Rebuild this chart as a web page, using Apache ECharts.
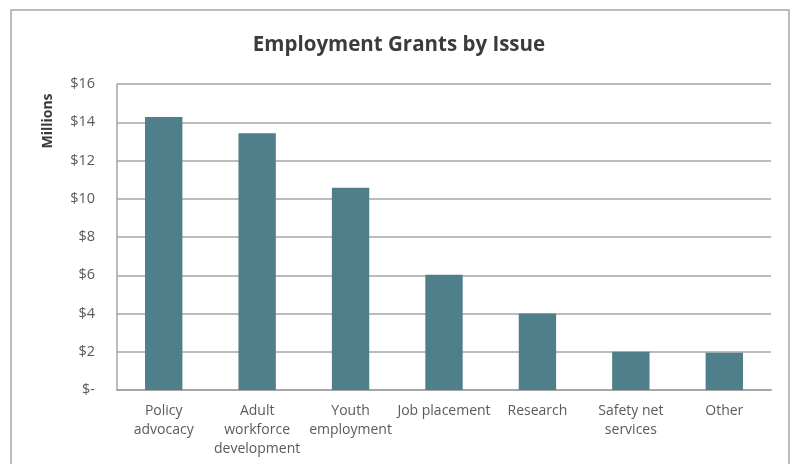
<!DOCTYPE html>
<html>
<head>
<meta charset="utf-8">
<script src="https://cdn.jsdelivr.net/npm/echarts@6/dist/echarts.min.js"></script>
<style>html,body{margin:0;padding:0;background:#fff;}#c{width:798px;height:464px;}</style>
</head>
<body>
<div id="c"></div>
<script>
const titleText = "Employment Grants by Issue";
const axisName = "Millions";
const categories = ["Policy\nadvocacy", "Adult\nworkforce\ndevelopment", "Youth\nemployment", "Job placement", "Research", "Safety net\nservices", "Other"];
const values = [14.28, 13.43, 10.58, 6.03, 4.0, 2.0, 1.95];
const yMin = 0, yMax = 16, yStep = 2;

const chart = echarts.init(document.getElementById('c'), null, {renderer: 'canvas'});
chart.setOption({
  animation: false,
  backgroundColor: '#ffffff',
  title: {
    text: titleText,
    left: 'center',
    top: 30,
    textStyle: {fontFamily: 'Open Sans', fontWeight: 'bold', fontSize: 20.5, color: '#3b3b3b'}
  },
  graphic: [
    {type: 'rect', shape: {x: 11, y: 10, width: 778, height: 500}, style: {fill: 'none', stroke: '#a6a6a6', lineWidth: 1.5}, silent: true},
    {type: 'text', x: 48, y: 121, rotation: Math.PI / 2, style: {text: axisName, fontFamily: 'Open Sans', fontWeight: 'bold', fontSize: 14, fill: '#3b3b3b', align: 'center', verticalAlign: 'middle'}}
  ],
  grid: {left: 117, right: 27, top: 84, bottom: 74, containLabel: false},
  xAxis: {
    type: 'category',
    data: categories,
    axisLine: {show: true, lineStyle: {color: '#a6a6a6', width: 2}},
    axisTick: {show: false},
    axisLabel: {interval: 0, fontFamily: 'Open Sans', fontSize: 14, color: '#5a5a5a', lineHeight: 19, margin: 12}
  },
  yAxis: {
    type: 'value',
    min: yMin, max: yMax, interval: yStep,
    axisLine: {show: true, lineStyle: {color: '#a6a6a6', width: 1.5}},
    axisTick: {show: false},
    splitLine: {show: true, lineStyle: {color: '#a6a6a6', width: 1.5}},
    axisLabel: {
      margin: 22, fontFamily: 'Open Sans', fontSize: 14.5, color: '#5a5a5a',
      formatter: v => v === 0 ? '$-' : '$' + v
    }
  },
  series: [{
    type: 'bar',
    data: values,
    barWidth: '40%',
    itemStyle: {color: '#4e7f8a'}
  }]
});
</script>
</body>
</html>
